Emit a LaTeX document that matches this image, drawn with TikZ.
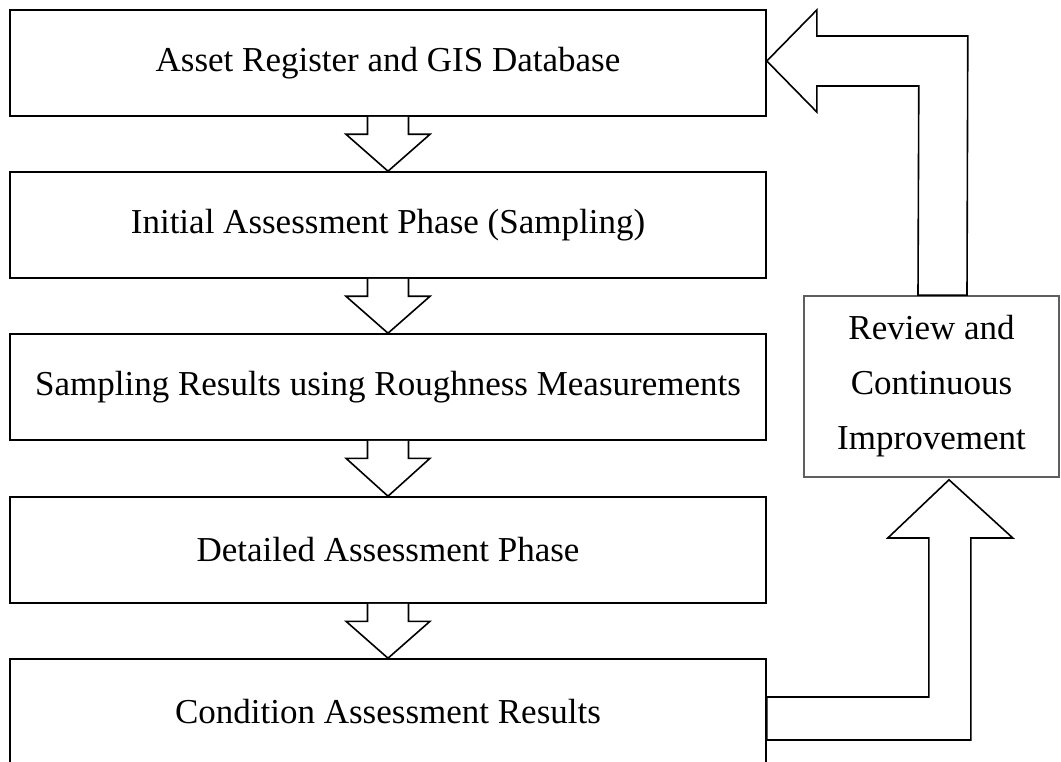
\documentclass[tikz,border=0pt]{standalone}
\usepackage{fontspec}
\setmainfont{Liberation Serif}
\usetikzlibrary{calc}
\definecolor{boxgray}{RGB}{95,95,95}
\tikzset{
  stage/.style={draw=black, line width=1.6pt, minimum width=756pt, minimum height=106pt,
    inner sep=0pt, font=\fontsize{35}{42}\selectfont},
  review/.style={draw=boxgray, line width=1.6pt, minimum width=255pt, minimum height=181pt,
    inner sep=0pt, align=center, font=\fontsize{35}{55}\selectfont},
  blockarrow/.style={draw=black, line width=1.6pt, fill=white, line join=miter}
}
\begin{document}
\begin{tikzpicture}[x=1pt, y=-1pt]
\useasboundingbox (0,0) rectangle (1061,762);
\clip (0,0) rectangle (1061,762);
\node[stage] (b1) at (388,63) {Asset Register and GIS Database};
\node[stage] (b2) at (388,225) {Initial Assessment Phase (Sampling)};
\node[stage] (b3) at (388,387) {Sampling Results using Roughness Measurements};
\node[stage] (b4) at (388,550) {Detailed Assessment Phase};
\node[stage] (b5) at (388,712) {Condition Assessment Results};
\node[review] (rv) at (931.5,386.5) {Review and\\Continuous\\Improvement};
% downward block arrows between stages
\foreach \a/\b in {b1/b2,b2/b3,b3/b4,b4/b5}{
  \draw[blockarrow] ($(\a.south)+(-20.5,0)$) -- ($(\a.south)+(-20.5,17.5)$)
    -- ($(\a.south)+(-42,17.5)$) -- (\b.north) -- ($(\a.south)+(42,17.5)$)
    -- ($(\a.south)+(20.5,17.5)$) -- ($(\a.south)+(20.5,0)$);
}
% block arrow from review box back to the asset register
\draw[blockarrow] ($(b1.east)+(0,-2)$) -- ($(b1.east)+(50,-53)$) -- ($(b1.east)+(50,-27)$)
  -- ($(b1.east)+(201,-27)$) -- ($(rv.north)+(35.5,0)$) -- ($(rv.north)+(-13.5,0)$)
  -- ($(b1.east)+(152,23)$) -- ($(b1.east)+(50,23)$) -- ($(b1.east)+(50,49)$) -- cycle;
% block arrow from condition results to the review box
\draw[blockarrow] ($(b5.east)+(0,-15)$) -- ($(b5.east)+(162,-15)$) -- ($(b5.east)+(162,-174)$)
  -- ($(b5.east)+(121,-174)$) -- ($(rv.south)+(17.5,2)$) -- ($(b5.east)+(246,-174)$)
  -- ($(b5.east)+(204,-174)$) -- ($(b5.east)+(204,28)$) -- ($(b5.east)+(0,28)$) -- cycle;
\end{tikzpicture}
\end{document}
